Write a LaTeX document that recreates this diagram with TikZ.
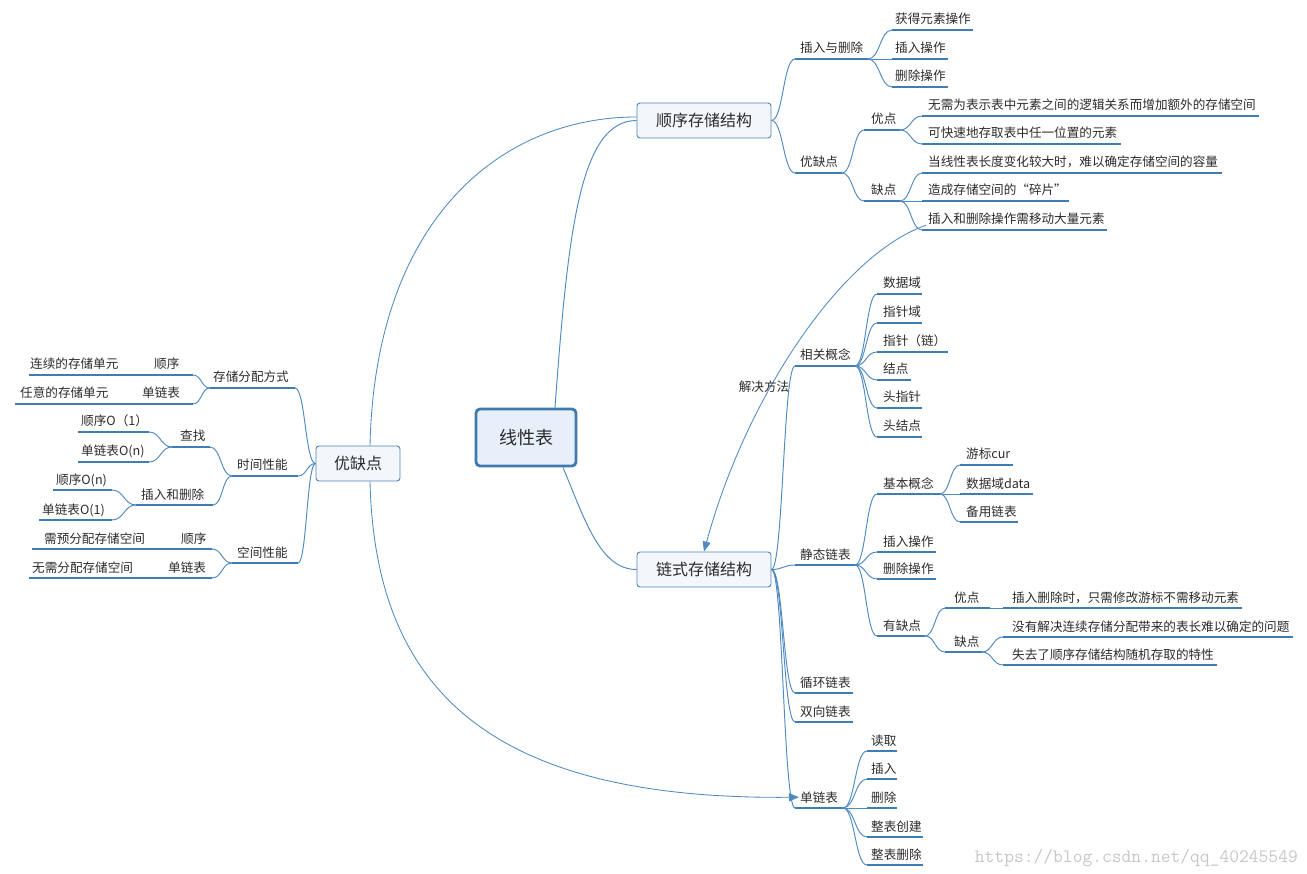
\documentclass[tikz,border=0pt]{standalone}
\usepackage{fontspec}
\setmainfont{Noto Sans CJK SC}
\usetikzlibrary{arrows.meta,calc}
\definecolor{lnc}{HTML}{4F8AC0}
\definecolor{ulc}{HTML}{3F7DB5}
\definecolor{bxc}{HTML}{4A84B8}
\definecolor{bxfill}{HTML}{F3F7FC}
\definecolor{cfill}{HTML}{E7F0FA}
\definecolor{cbord}{HTML}{3F7AAE}
\definecolor{txt}{HTML}{2B2B2B}
\newcommand\mmtopic[6]{%
  \coordinate (#1-l) at (#2,#4);
  \coordinate (#1-r) at (#3,#4);
  \node[lbl] (#1) at (#5,#4-6) {#6};
  \draw[ul] (#1-l) -- (#1-r);
}
\newcommand\mmbr[2]{%
  \draw[conn] let \p1=(#1), \p2=(#2) in (\p1) .. controls ({0.5*\x1+0.5*\x2},\y1) and ({0.5*\x1+0.5*\x2},\y2) .. (\p2);
}
\begin{document}
\begin{tikzpicture}[x=1pt,y=-1pt,
  lbl/.style={anchor=base west, inner sep=0pt, font=\fontsize{12.6}{15}\selectfont, text=txt},
  ul/.style={draw=ulc, line width=1.1pt},
  conn/.style={draw=lnc, line width=0.95pt},
  rel/.style={draw=lnc, line width=0.85pt},
  mbox/.style={draw=bxc, fill=bxfill, rounded corners=3pt, line width=0.9pt,
    font=\fontsize{16}{19}\selectfont, text=txt, inner sep=0pt},
  cbox/.style={draw=cbord, fill=cfill, rounded corners=4pt, line width=2.8pt,
    font=\fontsize{18}{21}\selectfont, text=txt, inner sep=0pt},
  arr/.style={-{Triangle[length=10pt,width=8pt]}}
]
\useasboundingbox (0,0) rectangle (1307,874);

% main boxes
\node[cbox, minimum width=100pt, minimum height=57pt] (C) at (526,437.5) {线性表};
\node[mbox, minimum width=134pt, minimum height=35pt] (S) at (704,120.5) {顺序存储结构};
\node[mbox, minimum width=134pt, minimum height=35pt] (L) at (704,569.5) {链式存储结构};
\node[mbox, minimum width=84pt, minimum height=35pt] (Y) at (358,463.5) {优缺点};

% central connectors
\draw[conn] ([xshift=29pt]C.north) .. controls (568,230) and (580,120.5) .. (S.west);
\draw[conn] ([xshift=37pt]C.south) .. controls (585,520) and (600,569.5) .. (L.west);

% ---------- sequential storage ----------
\mmtopic{s1}{795}{868}{59}{800}{插入与删除}
\mmtopic{s11}{892}{973}{30}{895}{获得元素操作}
\mmtopic{s12}{892}{948}{59}{895}{插入操作}
\mmtopic{s13}{892}{948}{87}{895}{删除操作}
\mmtopic{s2}{795}{842}{173}{800}{优缺点}
\mmtopic{s21}{864}{900}{130}{871}{优点}
\mmtopic{s211}{922}{1259}{116}{928}{无需为表示表中元素之间的逻辑关系而增加额外的存储空间}
\mmtopic{s212}{922}{1121}{144}{928}{可快速地存取表中任一位置的元素}
\mmtopic{s22}{864}{900}{201}{871}{缺点}
\mmtopic{s221}{922}{1222}{173}{928}{当线性表长度变化较大时，难以确定存储空间的容量}
\mmtopic{s222}{922}{1069}{201}{928}{造成存储空间的“碎片”}
\mmtopic{s223}{922}{1107}{230}{928}{插入和删除操作需移动大量元素}
\mmbr{S.east}{s1-l}
\mmbr{S.east}{s2-l}
\mmbr{s1-r}{s11-l}
\mmbr{s1-r}{s12-l}
\mmbr{s1-r}{s13-l}
\mmbr{s2-r}{s21-l}
\mmbr{s2-r}{s22-l}
\mmbr{s21-r}{s211-l}
\mmbr{s21-r}{s212-l}
\mmbr{s22-r}{s221-l}
\mmbr{s22-r}{s222-l}
\mmbr{s22-r}{s223-l}

% ---------- linked storage ----------
\mmtopic{l1}{795}{855}{366}{800}{相关概念}
\mmtopic{l11}{877}{922}{294}{883}{数据域}
\mmtopic{l12}{877}{922}{323}{883}{指针域}
\mmtopic{l13}{877}{948}{352}{883}{指针（链）}
\mmtopic{l14}{877}{911}{380}{883}{结点}
\mmtopic{l15}{877}{922}{408}{883}{头指针}
\mmtopic{l16}{877}{922}{437}{883}{头结点}
\mmtopic{l2}{795}{855}{565}{800}{静态链表}
\mmtopic{l21}{877}{940}{494}{883}{基本概念}
\mmtopic{l211}{960}{1013}{465}{966}{游标cur}
\mmtopic{l212}{960}{1033}{494}{966}{数据域data}
\mmtopic{l213}{960}{1018}{522}{966}{备用链表}
\mmtopic{l22}{877}{936}{552}{883}{插入操作}
\mmtopic{l23}{877}{936}{579}{883}{删除操作}
\mmtopic{l24}{877}{925}{636}{883}{有缺点}
\mmtopic{l241}{945}{990}{608}{954}{优点}
\mmtopic{l2411}{1003}{1242}{608}{1012}{插入删除时，只需修改游标不需移动元素}
\mmtopic{l242}{945}{982}{652}{954}{缺点}
\mmtopic{l2421}{1003}{1293}{637}{1012}{没有解决连续存储分配带来的表长难以确定的问题}
\mmtopic{l2422}{1003}{1217}{665}{1012}{失去了顺序存储结构随机存取的特性}
\mmtopic{l3}{795}{853}{693}{800}{循环链表}
\mmtopic{l4}{795}{853}{722}{800}{双向链表}
\mmtopic{l5}{795}{843}{808}{800}{单链表}
\mmtopic{l51}{867}{897}{751}{871}{读取}
\mmtopic{l52}{867}{897}{779}{871}{插入}
\mmtopic{l53}{867}{897}{808}{871}{删除}
\mmtopic{l54}{867}{923}{837}{871}{整表创建}
\mmtopic{l55}{867}{923}{865}{871}{整表删除}
\mmbr{L.east}{l1-l}
\mmbr{L.east}{l2-l}
\mmbr{L.east}{l3-l}
\mmbr{L.east}{l4-l}
\mmbr{L.east}{l5-l}
\mmbr{l1-r}{l11-l}
\mmbr{l1-r}{l12-l}
\mmbr{l1-r}{l13-l}
\mmbr{l1-r}{l14-l}
\mmbr{l1-r}{l15-l}
\mmbr{l1-r}{l16-l}
\mmbr{l2-r}{l21-l}
\mmbr{l2-r}{l22-l}
\mmbr{l2-r}{l23-l}
\mmbr{l2-r}{l24-l}
\mmbr{l21-r}{l211-l}
\mmbr{l21-r}{l212-l}
\mmbr{l21-r}{l213-l}
\mmbr{l24-r}{l241-l}
\mmbr{l24-r}{l242-l}
\mmbr{l241-r}{l2411-l}
\mmbr{l242-r}{l2421-l}
\mmbr{l242-r}{l2422-l}
\mmbr{l5-r}{l51-l}
\mmbr{l5-r}{l52-l}
\mmbr{l5-r}{l53-l}
\mmbr{l5-r}{l54-l}
\mmbr{l5-r}{l55-l}

% ---------- pros and cons (left) ----------
\mmtopic{y1}{210}{295}{388}{213}{存储分配方式}
\mmtopic{y11}{140}{193}{375}{154}{顺序}
\mmtopic{y111}{29}{140}{375}{30}{连续的存储单元}
\mmtopic{y12}{130}{193}{404}{142}{单链表}
\mmtopic{y121}{15}{130}{404}{20}{任意的存储单元}
\mmtopic{y2}{232}{298}{476}{237}{时间性能}
\mmtopic{y21}{172}{210}{447}{180}{查找}
\mmtopic{y211}{78}{149}{432}{81}{顺序O（1）}
\mmtopic{y212}{78}{149}{462}{81}{单链表O(n)}
\mmtopic{y22}{136}{213}{505}{141}{插入和删除}
\mmtopic{y221}{53}{112}{490}{56}{顺序O(n)}
\mmtopic{y222}{39}{112}{520}{42}{单链表O(1)}
\mmtopic{y3}{232}{298}{563}{237}{空间性能}
\mmtopic{y31}{150}{212}{549}{181}{顺序}
\mmtopic{y311}{32}{150}{549}{44}{需预分配存储空间}
\mmtopic{y32}{150}{212}{578}{168}{单链表}
\mmtopic{y321}{29}{150}{578}{32}{无需分配存储空间}
\mmbr{Y.west}{y1-r}
\mmbr{Y.west}{y2-r}
\mmbr{Y.west}{y3-r}
\mmbr{y1-l}{y11-r}
\mmbr{y1-l}{y12-r}
\mmbr{y11-l}{y111-r}
\mmbr{y12-l}{y121-r}
\mmbr{y2-l}{y21-r}
\mmbr{y2-l}{y22-r}
\mmbr{y21-l}{y211-r}
\mmbr{y21-l}{y212-r}
\mmbr{y22-l}{y221-r}
\mmbr{y22-l}{y222-r}
\mmbr{y3-l}{y31-r}
\mmbr{y3-l}{y32-r}
\mmbr{y31-l}{y311-r}
\mmbr{y32-l}{y321-r}

% ---------- relationships ----------
\draw[rel] ([xshift=12pt]Y.north) .. controls (375,220) and (500,117) .. ([yshift=3.5pt]S.west);
\draw[rel,arr] ([xshift=12pt]Y.south) .. controls (375,690) and (490,800) .. ([xshift=-1pt]l5.west);
\draw[rel,arr] ([xshift=-2pt]s223.south west) .. controls (840,255) and (745,400) .. (L.north);
\node[lbl, anchor=center] (rl) at (764,387) {解决方法};

% watermark
\node[anchor=base east, inner sep=0pt, font=\ttfamily\fontsize{19}{21}\selectfont, text=black!22] (wm) at (1298,862) {https://blog.csdn.net/qq\_40245549};
\end{tikzpicture}
\end{document}
